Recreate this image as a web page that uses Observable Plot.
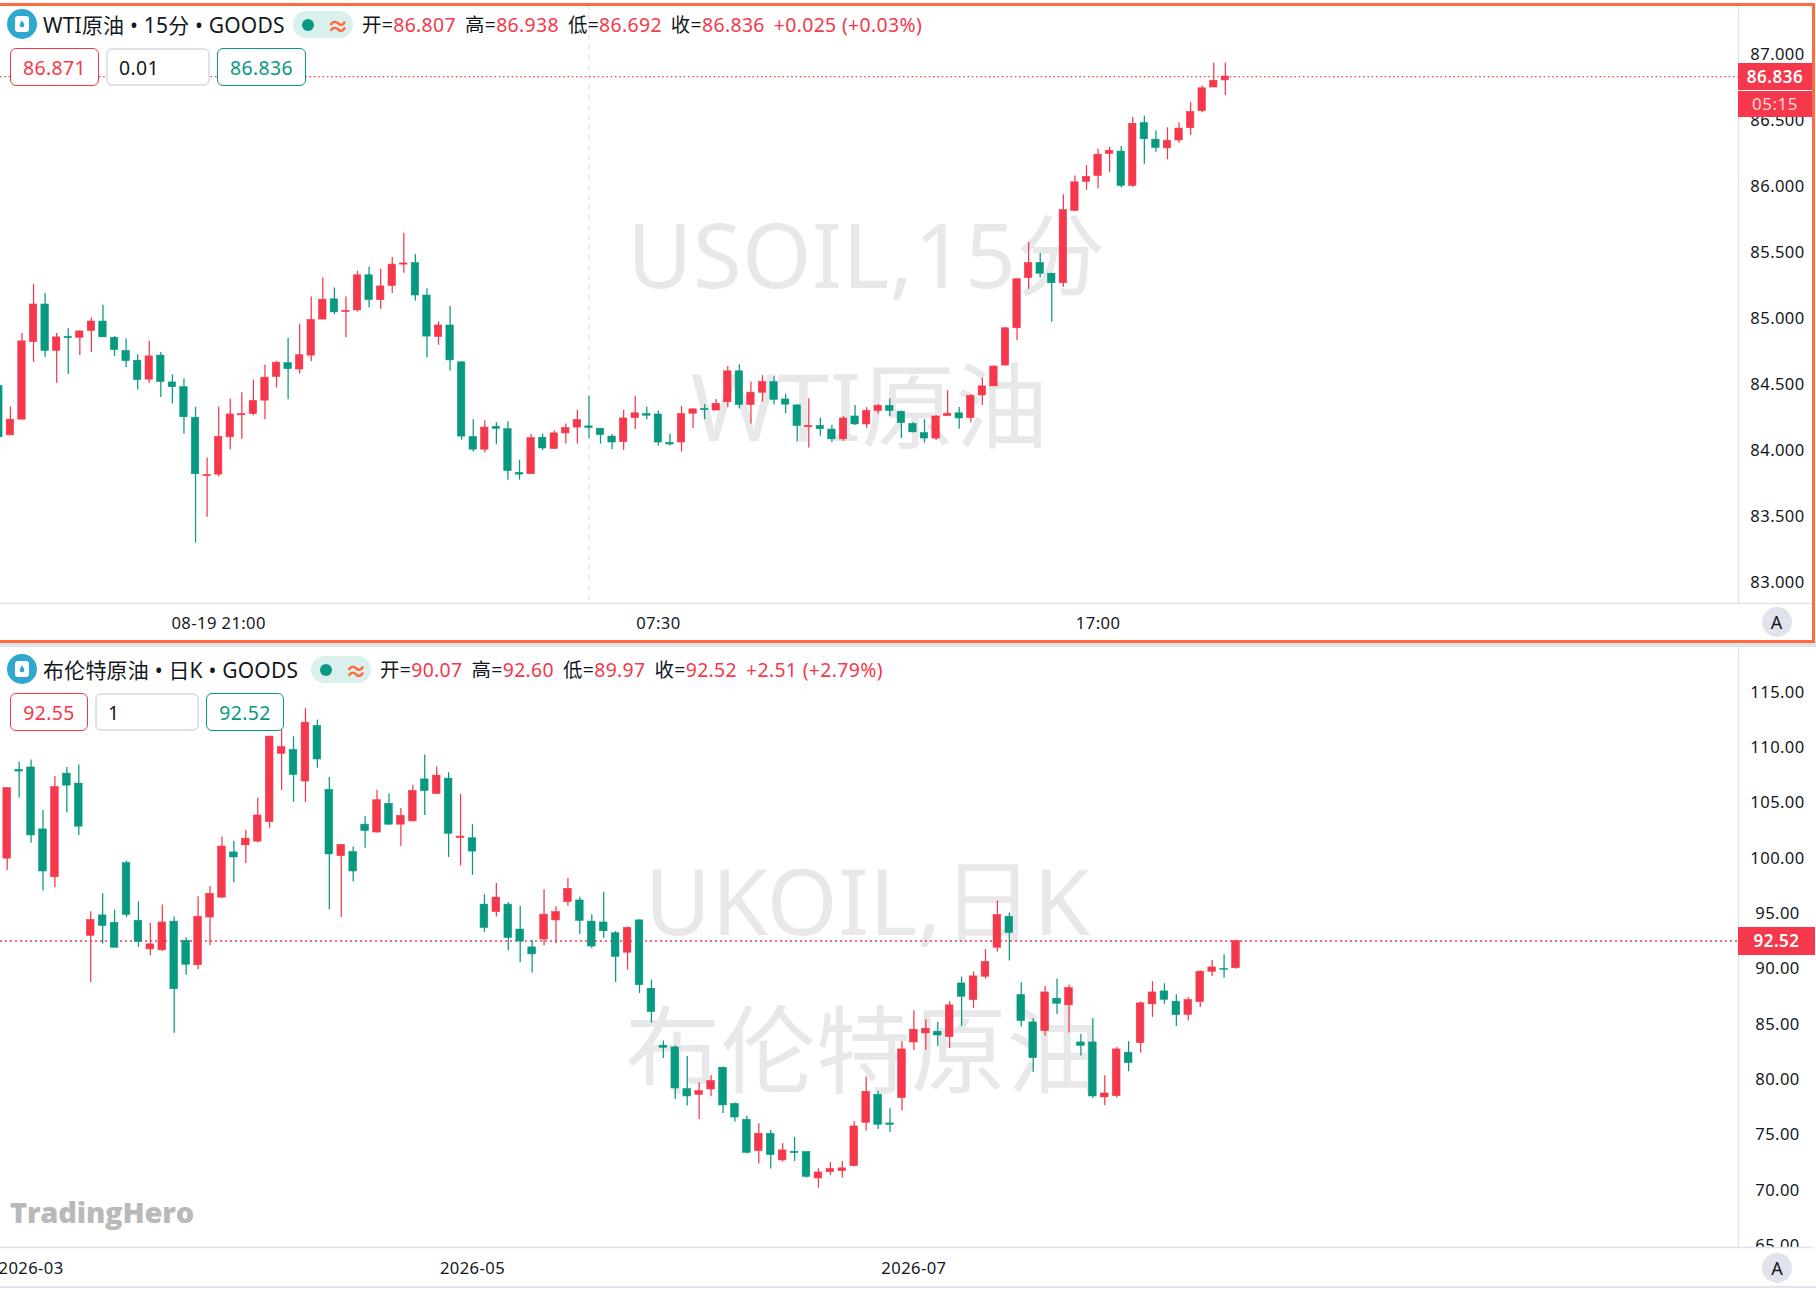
<!DOCTYPE html>
<html lang="zh"><head><meta charset="utf-8">
<script src="https://cdn.jsdelivr.net/npm/d3@7"></script>
<script src="https://cdn.jsdelivr.net/npm/@observablehq/plot@0.6"></script>
<style>
html,body{margin:0;padding:0;background:#fff;overflow:hidden}
#page{position:relative;width:1816px;height:1290px;overflow:hidden;font-family:"Noto Sans","Noto Sans CJK SC",sans-serif;color:#131722}
#page svg.plot,#page>svg{position:absolute;left:0}
#page svg text{letter-spacing:.4px}
.abs{position:absolute;white-space:nowrap}
.frame{position:absolute;left:-4px;top:3px;width:1813px;height:634px;border:3px solid #ff6b3d;pointer-events:none;box-sizing:content-box}
.band{position:absolute;left:0;width:1816px;background:#e0e3eb}
.title{font-size:21px;line-height:28px;transform:translateY(-50%);letter-spacing:.2px}
.ohlc{font-size:19.4px;line-height:28px;transform:translateY(-50%);letter-spacing:.35px}
.ohlc b{font-weight:400;color:#f5384b}
.ohlc span{margin-right:9px}
.pill{background:#d9f0ec;border-radius:14px}
.dot{position:absolute;width:12px;height:12px;border-radius:50%;background:#089981;top:50%;margin-top:-6px;left:9px}
.wave{position:absolute;color:#ff6b3d;font-size:22px;font-weight:700;top:50%;transform:translateY(-50%);right:4px;line-height:22px}
.box{box-sizing:border-box;background:#fff;border-radius:6px;font-size:19.4px;letter-spacing:.35px;display:flex;align-items:center;justify-content:center;border:1.6px solid}
.red{border-color:#f5384b;color:#f5384b}.green{border-color:#089981;color:#089981}
.grey{border:2px solid #dfe1e8;justify-content:flex-start;padding-left:11px;color:#131722}
.tag{background:#f5384b;color:#fff;text-align:center;font-weight:600;font-size:17px;letter-spacing:.5px}
.auto{width:30px;height:30px;border-radius:50%;background:#e0e3eb;text-align:center;line-height:30px;font-size:18px;transform:translate(-50%,-50%)}
.logo{font-family:"Open Sans",sans-serif;font-weight:800;font-size:29px;color:#b9b9b9;letter-spacing:-.2px;line-height:36px}
</style></head><body><div id="page"></div>
<script>
// ---------- WTI crude, 15 minute candles ----------
const wtiOpen=[84.493,84.119,84.238,84.825,85.110,84.759,84.864,84.858,84.909,84.981,84.858,84.759,84.684,84.541,84.723,84.520,84.484,84.253,83.810,83.822,84.104,84.271,84.280,84.382,84.562,84.666,84.618,84.723,84.996,85.149,85.053,85.065,85.331,85.143,85.250,85.412,85.424,85.178,84.864,84.951,84.672,84.107,84.011,84.184,84.166,83.834,83.825,84.101,84.017,84.134,84.178,84.187,84.169,84.110,84.068,84.250,84.280,84.277,84.062,84.065,84.283,84.319,84.307,84.370,84.604,84.349,84.442,84.523,84.391,84.346,84.181,84.190,84.163,84.089,84.262,84.202,84.304,84.343,84.298,84.205,84.136,84.095,84.265,84.286,84.250,84.421,84.490,84.648,84.930,85.310,85.424,85.343,85.271,85.819,86.038,86.083,86.250,86.268,86.008,86.484,86.358,86.292,86.352,86.445,86.574,86.753,86.807];
const wtiClose=[84.104,84.238,84.831,85.110,84.759,84.861,84.855,84.906,84.981,84.861,84.765,84.681,84.538,84.717,84.523,84.484,84.256,83.825,83.819,84.107,84.277,84.280,84.379,84.556,84.669,84.621,84.726,84.993,85.146,85.050,85.062,85.331,85.143,85.247,85.412,85.421,85.178,84.867,84.951,84.687,84.110,84.011,84.178,84.169,83.849,83.822,84.098,84.020,84.134,84.175,84.235,84.175,84.122,84.065,84.247,84.286,84.268,84.065,84.050,84.280,84.316,84.310,84.358,84.604,84.349,84.442,84.523,84.388,84.352,84.190,84.190,84.166,84.089,84.247,84.202,84.304,84.343,84.304,84.211,84.142,84.095,84.262,84.283,84.247,84.418,84.490,84.640,84.930,85.301,85.424,85.343,85.271,85.825,86.035,86.077,86.244,86.274,86.008,86.478,86.361,86.295,86.349,86.442,86.568,86.747,86.804,86.836];
const wtiHigh=[84.50,84.334,84.891,85.262,85.193,84.891,84.927,84.909,85.008,85.104,84.867,84.849,84.729,84.831,84.747,84.577,84.547,84.331,83.948,84.334,84.394,84.442,84.538,84.651,84.678,84.855,84.960,85.166,85.310,85.235,85.166,85.361,85.394,85.376,85.466,85.649,85.487,85.229,84.978,85.095,84.675,84.238,84.229,84.214,84.223,83.930,84.128,84.130,84.154,84.205,84.310,84.415,84.172,84.125,84.307,84.415,84.334,84.304,84.130,84.337,84.319,84.352,84.391,84.640,84.654,84.523,84.571,84.562,84.430,84.349,84.397,84.250,84.196,84.262,84.346,84.328,84.352,84.394,84.304,84.217,84.238,84.268,84.457,84.331,84.427,84.553,84.646,84.933,85.304,85.580,85.496,85.346,85.939,86.083,86.163,86.286,86.298,86.307,86.526,86.535,86.424,86.448,86.484,86.640,86.765,86.936,86.938];
const wtiLow=[84.05,84.119,84.238,84.672,84.711,84.514,84.580,84.723,84.747,84.861,84.717,84.633,84.463,84.514,84.406,84.358,84.130,83.304,83.499,83.804,84.008,84.089,84.268,84.238,84.478,84.388,84.583,84.678,84.996,85.032,84.858,85.053,85.083,85.074,85.193,85.346,85.136,84.705,84.801,84.607,84.083,83.993,83.987,84.050,83.780,83.780,83.822,84.005,84.014,84.053,84.053,84.095,84.053,84.011,84.005,84.163,84.238,84.038,84.038,83.993,84.172,84.238,84.307,84.328,84.319,84.205,84.370,84.349,84.283,84.068,84.023,84.113,84.065,84.074,84.193,84.172,84.280,84.262,84.095,84.139,84.059,84.080,84.265,84.166,84.214,84.346,84.490,84.642,84.837,85.223,85.310,84.975,85.241,85.816,85.975,85.984,86.107,85.993,85.996,86.172,86.262,86.205,86.331,86.391,86.562,86.753,86.692];
const wtiYTicks=[83,83.5,84,84.5,85,85.5,86,86.5,87];
const wtiXTicks=[19,57,95];
const wtiXLabels=["08-19 21:00","07:30","17:00"];
const wtiCrosshair=51;
const wtiLast=86.836;

// ---------- Brent crude, daily candles ----------
const brentOpen=[99.97,107.99,108.21,102.61,98.29,107.65,106.75,93.00,94.84,94.16,99.56,94.35,91.77,91.69,94.28,92.55,90.34,94.65,96.45,100.53,101.17,101.51,103.27,109.45,109.79,106.94,111.96,106.19,100.20,100.57,103.04,102.33,104.92,103.04,103.34,107.13,105.82,107.20,101.84,101.81,95.81,95.14,95.81,93.56,91.95,92.66,94.39,96.04,96.19,94.28,94.20,93.23,91.47,94.39,88.21,83.06,82.91,79.14,78.63,79.11,81.07,77.79,76.37,73.54,75.08,72.70,73.48,73.45,71.07,71.64,71.73,72.19,76.10,78.63,76.04,78.33,83.36,84.18,84.33,83.84,88.69,87.19,89.30,91.92,94.72,87.64,85.17,84.39,87.31,86.71,83.36,83.36,78.39,78.51,82.43,83.30,86.80,87.97,87.04,85.86,87.01,89.75,89.99,90.07];
const brentClose=[106.34,107.84,102.07,98.81,106.45,106.57,102.86,94.42,93.90,91.92,94.88,92.44,92.22,94.20,88.17,90.38,94.72,96.79,101.06,100.08,101.77,103.87,110.99,110.05,107.54,112.26,108.93,100.35,101.21,98.81,102.48,105.25,103.04,103.83,106.08,106.08,107.47,102.22,101.96,100.61,93.71,96.45,92.81,92.48,91.32,94.91,95.14,97.24,94.35,92.03,93.41,91.09,93.71,88.54,86.11,82.88,79.20,78.48,78.96,79.87,77.67,76.58,73.39,75.11,73.18,73.60,73.36,71.22,71.61,71.92,71.98,75.77,78.90,75.92,75.92,82.73,84.51,84.60,83.99,86.71,87.49,89.33,90.62,94.87,93.25,85.29,81.95,87.88,86.86,88.27,83.06,78.48,78.75,82.73,81.49,86.89,87.88,87.22,85.83,87.19,89.75,90.14,89.93,92.52];
const brentHigh=[106.38,108.67,108.89,104.32,107.39,108.21,108.44,95.17,96.79,95.32,99.75,96.07,94.13,95.77,94.69,92.81,96.52,97.46,101.92,101.54,102.52,105.44,111.06,111.62,110.99,113.53,112.49,107.31,101.21,101.02,103.76,106.15,105.82,104.50,106.57,109.34,108.25,107.73,105.78,103.04,96.71,97.72,96.00,95.66,92.59,97.16,95.62,98.17,96.49,94.91,96.94,93.38,93.79,94.42,88.99,83.48,83.06,82.10,79.69,80.38,81.13,77.88,76.70,76.01,75.41,74.21,74.78,73.48,71.95,72.52,72.61,76.19,80.23,78.96,77.37,83.42,86.23,85.41,85.17,87.04,89.27,89.72,91.77,96.14,95.05,88.75,85.50,88.42,89.09,88.54,84.08,85.53,80.35,82.88,83.42,87.04,88.85,88.66,87.67,87.43,89.84,90.77,91.29,92.60];
const brentLow=[98.89,105.44,101.36,97.05,97.35,104.09,102.07,88.77,92.25,91.88,94.65,91.95,91.20,91.58,84.20,89.44,89.93,92.10,96.37,97.80,99.52,101.39,102.74,106.12,105.07,105.03,108.14,95.36,94.65,97.87,100.91,102.29,102.97,101.09,103.27,103.87,105.74,100.08,99.30,98.47,93.30,94.69,91.62,90.57,89.63,92.10,92.29,95.66,93.11,91.84,92.78,88.77,89.89,87.79,85.10,81.92,78.21,77.61,76.40,78.45,76.95,76.16,73.27,72.37,71.92,72.55,72.61,71.10,70.20,71.34,71.10,72.10,75.35,75.50,75.23,77.16,82.64,82.64,83.00,82.82,84.81,86.43,89.09,91.53,90.71,84.75,80.65,83.93,85.89,84.21,82.13,78.30,77.67,78.33,80.71,82.40,85.62,86.80,84.81,85.29,86.52,89.33,89.15,89.97];
const brentYTicks=[65,70,75,80,85,90,95,100,105,110,115];
const brentXTicks=[2,39,76];
const brentXLabels=["2026-03","2026-05","2026-07"];
const brentLast=92.52;

const RED="#f5384b",GREEN="#089981",FONT='"Noto Sans","Noto Sans CJK SC",sans-serif',LINE="#e0e3eb",MARK="#e8e8ea";
const rows=(o,h,l,c)=>o.map((v,i)=>({i,open:v,high:h[i],low:l[i],close:c[i],dir:c[i]>=v?"up":"down"}));

function chart({data,xDomain,yDomain,yTicks,yFormat,xTicks,xLabels,xPad,marginTop,marginBottom,last,dotW,dash,wm1,wm2,wm1Size,wm2Size,dx1,dy1,dy2,dx2,extra}){
  const hw=0.32;
  return Plot.plot({
    width:1816,height:640,marginLeft:0,marginRight:78,marginTop,marginBottom,
    style:{fontFamily:FONT,fontSize:"16.6px",color:"#131722",background:"transparent",overflow:"visible"},
    x:{domain:xDomain,axis:null},
    y:{domain:yDomain,axis:null},
    color:{domain:["up","down"],range:[RED,GREEN]},
    marks:[
      Plot.text([wm1],{frameAnchor:"middle",dx:dx1,dy:dy1,text:d=>d,fontSize:wm1Size,fill:MARK,fontFamily:FONT}),
      Plot.text([wm2],{frameAnchor:"middle",dx:dx2,dy:dy2,text:d=>d,fontSize:wm2Size,fill:MARK,fontFamily:FONT}),
      ...(extra||[]),
      Plot.ruleY([last],{stroke:RED,strokeWidth:dotW,strokeDasharray:dash}),
      Plot.ruleX(data,{x:"i",y1:"low",y2:"high",stroke:"dir",strokeWidth:1.25,clip:true}),
      Plot.rect(data,{x1:d=>d.i-hw,x2:d=>d.i+hw,y1:"open",y2:"close",fill:"dir",stroke:"dir",strokeWidth:0.6,clip:true}),
      Plot.axisY({anchor:"right",ticks:yTicks,tickFormat:yFormat,tickSize:0,tickPadding:39,textAnchor:"middle",fontSize:16.6,fill:"#131722",label:null}),
      Plot.rect([0],{x1:()=>xDomain[0],x2:()=>xDomain[1],y1:()=>yDomain[0],y2:()=>yDomain[0],insetBottom:-marginBottom,insetRight:-75,fill:"#fff"}),
      Plot.ruleY([yDomain[0]],{stroke:LINE,strokeWidth:1.6,insetRight:-75}),
      Plot.ruleX([xDomain[1]],{stroke:LINE,strokeWidth:1.4}),
      Plot.axisX({ticks:xTicks,tickFormat:d=>xLabels[xTicks.indexOf(d)],tickSize:0,tickPadding:xPad,fontSize:16.6,fill:"#131722",label:null})
    ]
  });
}

const page=document.getElementById("page");
const el=(cls,css,html)=>{const d=document.createElement("div");d.className=cls;d.style.cssText=css;if(html!==undefined)d.innerHTML=html;page.appendChild(d);return d;};

const wti=chart({data:rows(wtiOpen,wtiHigh,wtiLow,wtiClose),xDomain:[0.144,150.35],yDomain:[82.846,87.374],yTicks:wtiYTicks,yFormat:d3.format(".3f"),xTicks:wtiXTicks,xLabels:wtiXLabels,xPad:13.5,marginTop:5,marginBottom:37,last:wtiLast,dotW:1.2,dash:"1.5 2.8",wm1:"USOIL,15分",wm2:"WTI原油",wm1Size:89,wm2Size:93,dx1:-3,dy1:-45,dx2:0,dy2:107,
  extra:[Plot.ruleX([wtiCrosshair],{stroke:LINE,strokeWidth:1.2,strokeDasharray:"5 5"})]});
wti.style.top="0px";page.appendChild(wti);
const brent=chart({data:rows(brentOpen,brentHigh,brentLow,brentClose),xDomain:[-0.562,145.12],yDomain:[64.83,119.05],yTicks:brentYTicks,yFormat:d3.format(".2f"),xTicks:brentXTicks,xLabels:brentXLabels,xPad:14.6,marginTop:0,marginBottom:40,last:brentLast,dotW:1.5,dash:"2 3",wm1:"UKOIL,日K",wm2:"布伦特原油",wm1Size:91,wm2Size:95,dx1:-2,dy1:-42,dx2:-6,dy2:108});
brent.style.top="647px";page.appendChild(brent);

// chrome
el("band","top:641px;height:6px");
el("band","top:1286px;height:2px");
el("frame","");
const icon=(x,y)=>el("abs",`left:${x-15}px;top:${y-15}px;width:30px;height:30px;border-radius:50%;background:#2fa8cf;display:flex;align-items:center;justify-content:center`,
  `<svg width="14" height="16" viewBox="0 0 14 16" style="position:static"><rect width="14" height="16" rx="3" fill="#fff"/><path d="M7 4.5c1.6 2.2 2.4 3.4 2.4 4.6a2.4 2.4 0 0 1-4.8 0C4.6 7.900 5.400 6.700 7 4.500z" fill="#2fa8cf"/></svg>`);
const ohlc=(o,h,l,c,ch)=>`<span>开=<b>${o}</b></span><span>高=<b>${h}</b></span><span>低=<b>${l}</b></span><span>收=<b>${c}</b></span><b>${ch}</b>`;
function header(y,title,pillX,textX,vals,boxY,boxes){
  icon(22,y);
  el("abs title",`left:43px;top:${y+1}px`,title);
  const p=el("abs pill",`left:${pillX}px;top:${y-13}px;width:60px;height:27px`);
  p.innerHTML='<div class="dot"></div><div class="wave">≈</div>';
  el("abs ohlc",`left:${textX}px;top:${y+1}px`,vals);
  boxes.forEach(([x,w,cls,t])=>el("abs box "+cls,`left:${x}px;top:${boxY}px;width:${w}px;height:38px`,t));
}
header(24,"WTI原油 • 15分 • GOODS",293,362,ohlc("86.807","86.938","86.692","86.836","+0.025 (+0.03%)"),48,
  [[10,89,"red","86.871"],[106,104,"grey","0.01"],[217,89,"green","86.836"]]);
header(669,"布伦特原油 • 日K • GOODS",311,380,ohlc("90.07","92.60","89.97","92.52","+2.51 (+2.79%)"),693,
  [[10,78,"red","92.55"],[95,104,"grey","1"],[206,78,"green","92.52"]]);

el("abs tag","left:1738px;top:63px;width:74px;height:27px;line-height:27px","86.836");
el("abs tag","left:1738px;top:90.500px;width:74px;height:26.500px;line-height:26.500px;font-weight:400;color:#ffd6da","05:15");
el("abs tag","left:1738px;top:927px;width:77px;height:28px;line-height:28px","92.52");
el("abs auto","left:1776.500px;top:622px","A");
el("abs auto","left:1777px;top:1268px","A");
el("abs logo","left:10px;top:1194px","TradingHero");
</script>
</body></html>
